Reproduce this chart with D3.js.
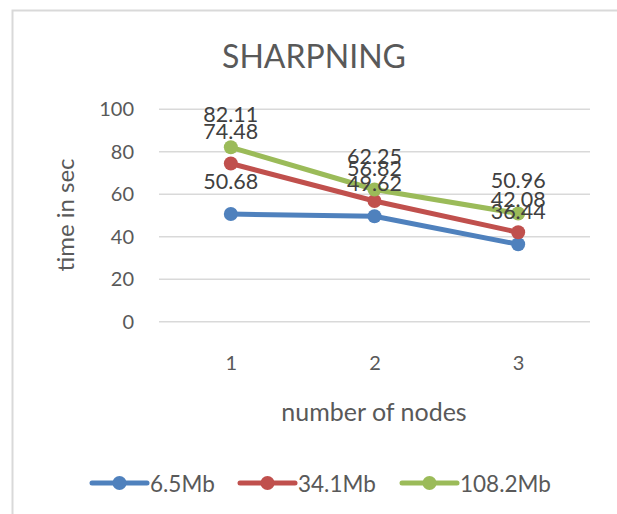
<!DOCTYPE html>
<html><head><meta charset="utf-8">
<script src="https://cdn.jsdelivr.net/npm/d3@7"></script>
<style>html,body{margin:0;background:#fff;overflow:hidden}svg{display:block}text{font-family:Lato,"Open Sans",sans-serif}</style>
</head><body><svg id="c" width="617" height="514"></svg>
<script>
const categories = ["1","2","3"];
const seriesNames = ["6.5Mb","34.1Mb","108.2Mb"];
const s65 = [50.68, 49.62, 36.44];
const s341 = [74.48, 56.82, 42.08];
const s1082 = [82.11, 62.25, 50.96];
const yTicks = [0,20,40,60,80,100];
const colors = ["#4F81BD","#C0504D","#9BBB59"];
const series = [s65, s341, s1082];

const svg = d3.select("#c");
svg.append("path").attr("d","M12.5,520V10.5H640")
  .attr("fill","none").attr("stroke","#D9D9D9").attr("stroke-width",2);

const x = d3.scalePoint().domain(categories).range([159,590]).padding(0.5);
const y = d3.scaleLinear().domain([0,100]).range([321.7,109.3]);

svg.append("text").attr("x",314).attr("y",55).attr("text-anchor","middle").attr("dominant-baseline","central")
  .attr("font-size",32).attr("fill","#595959").text("SHARPNING");

// gridlines
svg.append("g").selectAll("line").data(yTicks).join("line")
  .attr("x1",159).attr("x2",590).attr("y1",d=>y(d)).attr("y2",d=>y(d))
  .attr("stroke","#D9D9D9").attr("stroke-width",1.5);

const yAxis = d3.axisLeft(y).tickValues(yTicks).tickSize(0).tickPadding(0);
const ga = svg.append("g").attr("transform","translate(134,0)").call(yAxis);
ga.select(".domain").remove();
ga.selectAll("text").attr("font-size",20).attr("fill","#595959").attr("font-family","Lato");

const xAxis = d3.axisBottom(x).tickSize(0).tickPadding(0);
const gx = svg.append("g").attr("transform","translate(0,363)").call(xAxis);
gx.select(".domain").remove();
gx.selectAll("text").attr("font-size",20).attr("fill","#595959").attr("font-family","Lato").attr("dy","0.35em");

svg.append("text").attr("transform","translate(64,215) rotate(-90)").attr("text-anchor","middle")
  .attr("dominant-baseline","central").attr("font-size",24).attr("fill","#595959").text("time in sec");
svg.append("text").attr("x",374).attr("y",411).attr("text-anchor","middle")
  .attr("dominant-baseline","central").attr("font-size",25).attr("fill","#595959").text("number of nodes");

const line = d3.line().x((d,i)=>x(categories[i])).y(d=>y(d));
series.forEach((s,k)=>{
  const g = svg.append("g");
  g.append("path").datum(s).attr("d",line).attr("fill","none").attr("stroke",colors[k])
    .attr("stroke-width",5).attr("stroke-linejoin","round").attr("stroke-linecap","round");
  g.selectAll("circle").data(s).join("circle").attr("cx",(d,i)=>x(categories[i])).attr("cy",d=>y(d))
    .attr("r",7).attr("fill",colors[k]);
});
series.forEach((s,k)=>{
  svg.append("g").selectAll("text").data(s).join("text")
    .attr("x",(d,i)=>x(categories[i])).attr("y",d=>y(d)-33)
    .attr("text-anchor","middle").attr("dominant-baseline","central")
    .attr("font-size",21.5).attr("fill","#404040").text(d=>d.toFixed(2));
});

// legend
const legX = [92, 240, 402];
const lg = svg.append("g").selectAll("g").data(seriesNames).join("g")
  .attr("transform",(d,i)=>`translate(${legX[i]},483)`);
lg.append("line").attr("x1",0).attr("x2",55).attr("stroke",(d,i)=>colors[i]).attr("stroke-width",5).attr("stroke-linecap","round");
lg.append("circle").attr("cx",27.5).attr("r",7).attr("fill",(d,i)=>colors[i]);
lg.append("text").attr("x",58).attr("dominant-baseline","central").attr("font-size",22.5).attr("fill","#595959").text(d=>d);
</script></body></html>
